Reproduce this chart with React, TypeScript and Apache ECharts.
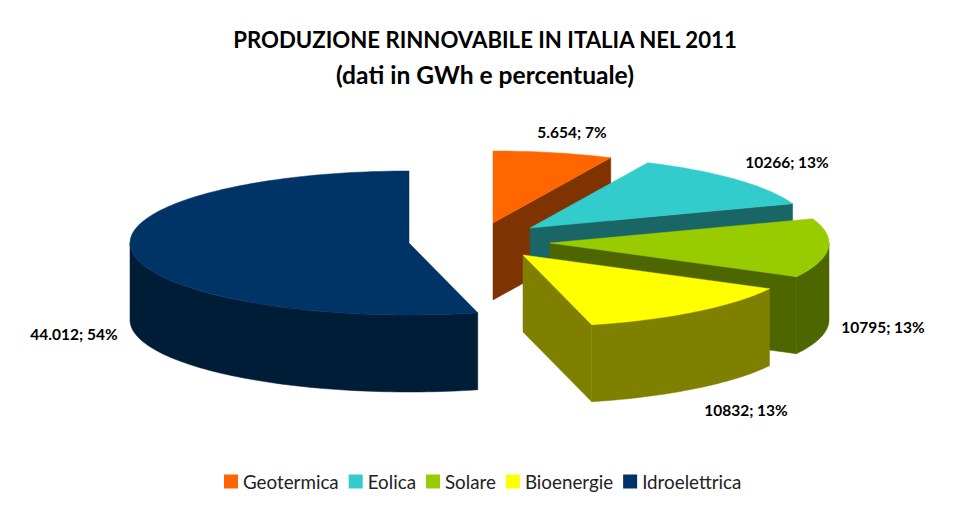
import React, { useEffect, useRef } from "react";
import * as echarts from "echarts";

const categories = ["Geotermica", "Eolica", "Solare", "Bioenergie", "Idroelettrica"];
const gwhValues = [5654, 10266, 10795, 10832, 44012];
const valueLabels = ["5.654; 7%", "10266; 13%", "10795; 13%", "10832; 13%", "44.012; 54%"];
const topColors = ["#FF6600", "#33CCCC", "#99CC00", "#FFFF00", "#003366"];
const wallColors = ["#7F3300", "#1A6666", "#4D6600", "#808000", "#001D38"];

// projected ellipse of the pie and the exploded apex of every slice
const RX = 279;
const RY = 72;
const DEPTH = 77;
const apexes = [[493, 223], [530, 228], [550, 243], [523, 255], [409, 243]];
const labelCenters = [[572, 132], [787, 162], [883, 327], [746, 410], [74, 334]];

const FONT = "Lato, 'Open Sans', sans-serif";
const total = gwhValues.reduce((a, b) => a + b, 0);

function renderSlice(index: number) {
  return (_params: any, api: any) => {
    const value = api.value(0);
    const before = gwhValues.slice(0, index).reduce((a, b) => a + b, 0);
    const start = (before / total) * 360;
    const end = start + (value / total) * 360;
    const [ax, ay] = apexes[index];
    const pt = (deg: number, drop = 0) => {
      const r = (deg * Math.PI) / 180;
      return [ax + RX * Math.sin(r), ay - RY * Math.cos(r) + drop];
    };
    const arc = (from: number, to: number, drop = 0) => {
      const out: number[][] = [];
      const n = Math.max(2, Math.ceil((to - from) / 1.5));
      for (let i = 0; i <= n; i++) out.push(pt(from + ((to - from) * i) / n, drop));
      return out;
    };
    const children: any[] = [];
    const wall = wallColors[index];
    const top = topColors[index];
    const poly = (points: number[][], fill: string) => ({
      type: "polygon",
      shape: { points },
      style: { fill, stroke: fill, lineWidth: 0.5 },
    });
    // cut face at the end angle, visible when it turns towards the viewer
    if (end > 0 && end < 180) {
      children.push(poly([[ax, ay], pt(end), pt(end, DEPTH), [ax, ay + DEPTH]], wall));
    }
    // outer wall, only on the front half of the ellipse
    const wFrom = Math.max(start, 90);
    const wTo = Math.min(end, 270);
    if (wTo > wFrom) {
      children.push(poly([...arc(wFrom, wTo), ...arc(wFrom, wTo, DEPTH).reverse()], wall));
    }
    children.push(poly([[ax, ay], ...arc(start, end)], top));
    children.push({
      type: "text",
      x: labelCenters[index][0],
      y: labelCenters[index][1],
      style: {
        text: valueLabels[index],
        fontFamily: FONT,
        fontSize: 15.5,
        fontWeight: "bold",
        fill: "#000000",
        align: "center",
        verticalAlign: "middle",
      },
    });
    return { type: "group", children };
  };
}

export default function App() {
  const ref = useRef<HTMLDivElement>(null);
  useEffect(() => {
    const chart = echarts.init(ref.current!, undefined, { renderer: "svg" });
    chart.setOption({
      animation: false,
      backgroundColor: "#FFFFFF",
      title: {
        text: "PRODUZIONE RINNOVABILE IN ITALIA NEL 2011",
        subtext: "(dati in GWh e percentuale)",
        left: 480,
        top: 23,
        textAlign: "center",
        itemGap: 12,
        textStyle: { fontFamily: FONT, fontSize: 22.2, fontWeight: "bold", color: "#000000" },
        subtextStyle: { fontFamily: FONT, fontSize: 24.6, fontWeight: "bold", color: "#000000" },
      },
      legend: {
        data: categories,
        left: 219,
        top: 467,
        icon: "rect",
        itemWidth: 14,
        itemHeight: 14,
        itemGap: 10,
        textStyle: { fontFamily: FONT, fontSize: 18.8, color: "#222222" },
      },
      series: categories.map((name, i) => ({
        type: "custom",
        name,
        coordinateSystem: "none",
        data: [[gwhValues[i]]],
        itemStyle: { color: topColors[i] },
        renderItem: renderSlice(i),
      })),
    });
    return () => chart.dispose();
  }, []);
  return (
    <div
      ref={ref}
      style={{ position: "absolute", left: 0, top: 0, width: 970, height: 505 }}
    />
  );
}
